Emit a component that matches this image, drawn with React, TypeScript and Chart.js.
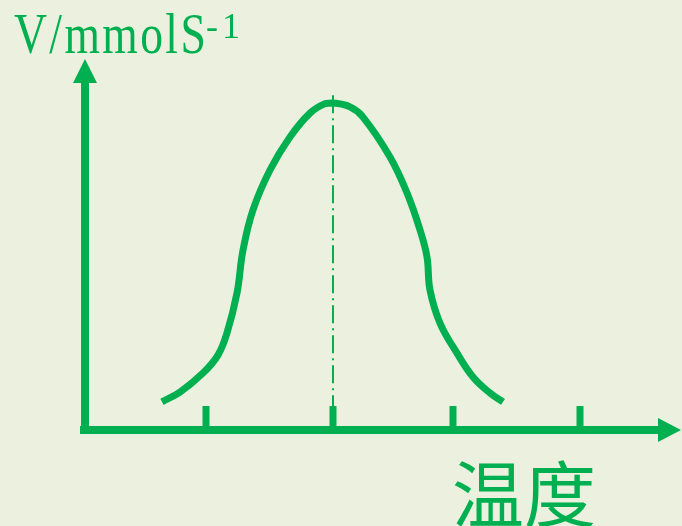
import React, { useEffect, useRef } from "react";
import { Chart, registerables } from "chart.js";

Chart.register(...registerables);

// Enzyme-rate vs temperature curve (arbitrary units)
const curveX = [6.48, 7.92, 9.76, 10.96, 11.68, 12.48, 12.96, 13.76, 15.12, 16.72, 18.32, 19.52, 20.16, 21.52, 22.56, 24.72, 26.08, 27.12, 27.68, 27.92, 28.72, 30.08, 31.36, 32.72, 33.76];
const curveY = [0.86, 1.16, 1.74, 2.29, 2.97, 4.19, 5.5, 6.73, 7.95, 8.96, 9.69, 9.98, 10.0, 9.88, 9.57, 8.35, 7.25, 6.12, 5.29, 4.28, 3.27, 2.35, 1.62, 1.13, 0.86];
const tickValues = [10, 20.16, 29.76, 39.92];
const optimumX = 20.16;
const optimumLineTop = 10.24;
const yAxisLabel = "V/mmolS";
const yAxisSup = "-1";
const xAxisLabel = "温度";

const GREEN = "#00B050";
const BG = "#ECF0DF";

const axesPlugin = {
  id: "arrowAxes",
  afterDatasetsDraw(chart: any) {
    const { ctx, chartArea, scales, width } = chart;
    const { left, top, bottom } = chartArea;
    ctx.save();
    ctx.fillStyle = GREEN;
    const aw = 8;
    const vx = left + aw / 2;
    // vertical axis
    ctx.fillRect(left, top - 20, aw, bottom + aw / 2 - (top - 20));
    ctx.beginPath();
    ctx.moveTo(vx - 12, top - 20);
    ctx.lineTo(vx + 12, top - 20);
    ctx.lineTo(vx, top - 44);
    ctx.closePath();
    ctx.fill();
    // horizontal axis
    const hx0 = left - 1;
    const hxEnd = width - 24;
    ctx.fillRect(hx0, bottom - aw / 2, hxEnd - hx0, aw);
    ctx.beginPath();
    ctx.moveTo(hxEnd, bottom - 12);
    ctx.lineTo(hxEnd, bottom + 12);
    ctx.lineTo(width - 1, bottom);
    ctx.closePath();
    ctx.fill();
    // ticks
    for (const v of tickValues) {
      const px = scales.x.getPixelForValue(v);
      ctx.fillRect(px - 3.5, bottom - 24, 7, 24);
    }
    ctx.restore();
  },
};

export default function App() {
  const ref = useRef<HTMLCanvasElement>(null);
  useEffect(() => {
    if (!ref.current) return;
    const curve = curveX.map((x, i) => ({ x, y: curveY[i] }));
    const chart = new Chart(ref.current, {
      type: "line",
      data: {
        datasets: [
          {
            data: curve,
            borderColor: GREEN,
            borderWidth: 7,
            pointRadius: 0,
            tension: 0.4,
            fill: false,
            clip: false,
          } as any,
          {
            data: [
              { x: optimumX, y: optimumLineTop },
              { x: optimumX, y: 0 },
            ],
            borderColor: GREEN,
            borderWidth: 2,
            borderDash: [18, 5, 2, 5],
            pointRadius: 0,
            fill: false,
            clip: false,
          } as any,
        ],
      },
      options: {
        animation: false,
        responsive: false,
        events: [],
        layout: { padding: { left: 81, right: 0, top: 103, bottom: 96 } },
        scales: {
          x: { type: "linear", min: 0, max: 48.08, display: false },
          y: { type: "linear", min: 0, max: 10, display: false },
        },
        plugins: {
          legend: { display: false },
          tooltip: { enabled: false },
          title: { display: false },
        },
      },
      plugins: [axesPlugin],
    });
    return () => chart.destroy();
  }, []);

  return (
    <div
      style={{
        position: "fixed",
        left: 0,
        top: 0,
        width: 682,
        height: 526,
        background: BG,
        overflow: "hidden",
      }}
    >
      <canvas ref={ref} width={682} height={526} style={{ position: "absolute", left: 0, top: 0 }} />
      <div
        style={{
          position: "absolute",
          left: 14,
          top: 5,
          fontFamily: "'Liberation Serif', serif",
          fontSize: 57,
          lineHeight: 1,
          letterSpacing: 3,
          color: GREEN,
          whiteSpace: "nowrap",
          transform: "scaleX(0.8)",
          transformOrigin: "left top",
        }}
      >
        {yAxisLabel}
      </div>
      <div
        style={{
          position: "absolute",
          left: 206,
          top: 8,
          fontFamily: "'Liberation Serif', serif",
          fontSize: 36,
          lineHeight: 1,
          letterSpacing: 4,
          color: GREEN,
          whiteSpace: "nowrap",
        }}
      >
        {yAxisSup}
      </div>
      <div
        style={{
          position: "absolute",
          left: 452,
          top: 454,
          fontFamily: "'Noto Sans CJK SC', sans-serif",
          fontSize: 72,
          lineHeight: 1,
          color: GREEN,
          whiteSpace: "nowrap",
        }}
      >
        {xAxisLabel}
      </div>
    </div>
  );
}
